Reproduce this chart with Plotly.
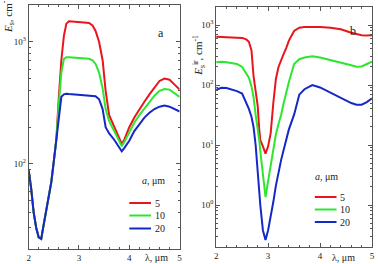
import plotly.graph_objects as go

# ---------------- data: panel a ----------------
xa = [2.0, 2.05, 2.1, 2.15, 2.2, 2.25, 2.3, 2.35, 2.4, 2.45, 2.5, 2.55,
      2.6, 2.65, 2.7, 2.75, 2.8, 2.9, 3.0, 3.1, 3.2, 3.27, 3.33, 3.4, 3.47,
      3.53, 3.6, 3.7, 3.8, 3.85, 3.9, 4.0, 4.1, 4.2, 4.3, 4.4, 4.5, 4.6,
      4.7, 4.8, 4.9, 5.0]
a_common = [89, 63, 40, 30, 25, 24.3, 32, 42, 52, 71, 105, 158]
a_red = a_common + [355, 708, 1122, 1413, 1479, 1472, 1462, 1445, 1429, 1365,
                    1230, 1000, 708, 398, 251, 200, 158, 146, 158, 200, 240,
                    282, 324, 372, 427, 479, 501, 490, 447, 407]
a_green = a_common + [316, 562, 724, 750, 750, 745, 738, 733, 728, 708, 661,
                      562, 417, 282, 224, 186, 151, 140, 151, 182, 219, 251,
                      282, 316, 363, 398, 412, 407, 380, 355]
a_blue = a_common + [263, 355, 372, 376, 374, 372, 367, 363, 363, 363, 359,
                     339, 282, 200, 178, 158, 135, 127, 135, 155, 186, 214,
                     240, 263, 282, 295, 301, 295, 282, 269]

# ---------------- data: panel b ----------------
xb = [2.0, 2.1, 2.2, 2.3, 2.4, 2.5, 2.58, 2.63, 2.68, 2.72, 2.76, 2.8, 2.83,
      2.85, 2.9, 2.95, 3.0, 3.05, 3.1, 3.15, 3.2, 3.25, 3.3, 3.35, 3.4, 3.5,
      3.6, 3.7, 3.85, 4.0, 4.2, 4.4, 4.6, 4.7, 4.8, 4.9, 5.0]
b_red = [638, 631, 631, 624, 617, 610, 575, 525, 380, 141, 79, 45, 17.8,
         12.0, 9.5, 7.2, 9.5, 15.8, 50, 126, 200, 263, 331, 417, 550, 794,
         902, 923, 933, 923, 902, 851, 741, 708, 676, 668, 676]
b_green = [240, 245, 240, 234, 224, 200, 158, 132, 95, 63, 32, 20, 12,
           7.9, 3.0, 1.36, 2.5, 4.8, 8.9, 15.1, 22.4, 31.6, 50, 79, 112,
           224, 269, 288, 302, 288, 263, 240, 214, 202, 204, 224, 245]
b_blue = [83, 90, 89, 85, 79, 72, 52, 40, 29.5, 20, 10, 3.2, 1.6,
          1.0, 0.38, 0.26, 0.38, 0.63, 1.12, 2.1, 3.5, 5.6, 8.3, 12.6, 18.2,
          32, 69, 85, 100, 91, 74, 62, 50, 47, 47, 52, 60]

legend_labels = ["5", "10", "20"]
colors = ["#e8161c", "#2ee62e", "#1428c8"]

XA = (27 / 378, 180 / 378)
XB = (217 / 378, 375 / 378)
YA = ((264 - 249) / 264, (264 - 5) / 264)
YB = ((264 - 247) / 264, (264 - 7) / 264)

fig = go.Figure()
for ys, c in zip([a_red, a_green, a_blue], colors):
    fig.add_trace(go.Scatter(x=xa, y=ys, mode="lines", line=dict(color=c, width=2),
                             xaxis="x", yaxis="y", showlegend=False))
for ys, c in zip([b_red, b_green, b_blue], colors):
    fig.add_trace(go.Scatter(x=xb, y=ys, mode="lines", line=dict(color=c, width=2),
                             xaxis="x2", yaxis="y2", showlegend=False))

serif = "Liberation Serif, Times New Roman, serif"
axcommon = dict(showline=True, linecolor="#555", linewidth=1, mirror="allticks",
                ticks="inside", ticklen=4, tickcolor="#555", showgrid=False,
                zeroline=False, tickfont=dict(family=serif, size=9, color="#222"))

xax = dict(axcommon, range=[2, 5], tickvals=[2, 3, 4, 5],
           minor=dict(ticks="inside", ticklen=2, dtick=0.2, tickcolor="#555"))
fig.update_layout(
    xaxis=dict(xax, domain=XA, anchor="y"),
    xaxis2=dict(xax, domain=XB, anchor="y2"),
    yaxis=dict(axcommon, type="log", domain=YA, anchor="x", range=[1.303, 3.303],
               tickvals=[100, 1000], ticktext=["10<sup>2</sup>", "10<sup>3</sup>"],
               minor=dict(ticks="inside", ticklen=2, tickcolor="#555", dtick="D1")),
    yaxis2=dict(axcommon, type="log", domain=YB, anchor="x2", range=[-0.7, 3.3],
                tickvals=[1, 10, 100, 1000],
                ticktext=["10<sup>0</sup>", "10<sup>1</sup>", "10<sup>2</sup>", "10<sup>3</sup>"],
                minor=dict(ticks="inside", ticklen=2, tickcolor="#555", dtick="D1")),
    width=378, height=264, margin=dict(l=0, r=0, t=0, b=0),
    paper_bgcolor="white", plot_bgcolor="white", showlegend=False,
)

def px(x):
    return x / 378

def py(y):
    return (264 - y) / 264

ann = []
# axis titles
ann.append(dict(text="<i>E</i><sub>s</sub>, cm<sup>-1</sup>", x=px(6), y=py(35), xref="paper",
                yref="paper", xanchor="center", yanchor="bottom", textangle=-90,
                showarrow=False, font=dict(family=serif, size=11, color="#222")))
ann.append(dict(text="<i>E</i><sub>s</sub><sup>ir</sup>, cm<sup>-1</sup>", x=px(200), y=py(78),
                xref="paper", yref="paper", xanchor="center", yanchor="bottom",
                textangle=-90, showarrow=False,
                font=dict(family=serif, size=11, color="#222")))
for xx in (157, 346):
    ann.append(dict(text="λ, μm", x=px(xx), y=py(257), xref="paper", yref="paper",
                    xanchor="center", yanchor="middle", showarrow=False,
                    font=dict(family=serif, size=10, color="#222")))
ann.append(dict(text="a", x=px(161), y=py(24), xref="paper", yref="paper",
                showarrow=False, font=dict(family=serif, size=12, color="#222")))
ann.append(dict(text="b", x=px(361), y=py(22), xref="paper", yref="paper",
                showarrow=False, font=dict(family=serif, size=12, color="#222")))

shapes = []
legends = [dict(tx=154, ty=188, lx0=129, lx1=151, rows=[203, 215.5, 228.5]),
           dict(tx=343, ty=184, lx0=317, lx1=339, rows=[197, 209.5, 222])]
for L in legends:
    ann.append(dict(text="<i>a</i>, μm", x=px(L["tx"]), y=py(L["ty"]), xref="paper",
                    yref="paper", showarrow=False,
                    font=dict(family=serif, size=10, color="#222")))
    for lab, c, yy in zip(legend_labels, colors, L["rows"]):
        shapes.append(dict(type="line", xref="paper", yref="paper", x0=px(L["lx0"]),
                           x1=px(L["lx1"]), y0=py(yy), y1=py(yy),
                           line=dict(color=c, width=2)))
        ann.append(dict(text=lab, x=px(L["lx1"] + 2), y=py(yy), xref="paper",
                        yref="paper", xanchor="left", yanchor="middle", showarrow=False,
                        font=dict(family=serif, size=10, color="#222")))

fig.update_layout(annotations=ann, shapes=shapes)
fig.write_html("out.html")
